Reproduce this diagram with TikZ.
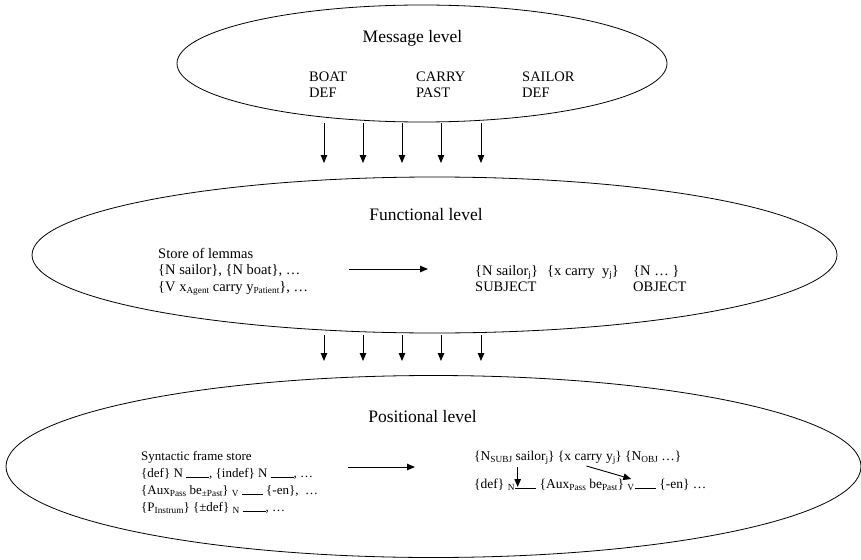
\documentclass[tikz,border=0pt]{standalone}
\usepackage{fontspec}
\setmainfont{Liberation Serif}
\usetikzlibrary{shapes.geometric,arrows.meta,calc}
\newcommand{\lsub}[1]{\raisebox{-0.35ex}{\fontsize{9.3}{10}\selectfont #1}}
\newcommand{\blankline}{\rule[-1pt]{23pt}{0.6pt}}
\newcommand{\blankshort}{\rule[-1pt]{21pt}{0.6pt}}
\tikzset{
  lvl/.style={draw, ellipse, inner sep=0pt, line width=0.8pt},
  title/.style={anchor=base, inner sep=0pt, font=\fontsize{17.5}{20}\selectfont},
  ftxt/.style={anchor=base west, inner sep=0pt, font=\fontsize{14.5}{17}\selectfont},
  ptxt/.style={anchor=base west, inner sep=0pt, font=\fontsize{13}{16}\selectfont},
  qtxt/.style={anchor=base west, inner sep=0pt, font=\fontsize{13.5}{16}\selectfont},
  arr/.style={-{Triangle[length=8pt,width=6.5pt]}, line width=0.9pt},
}
\begin{document}
\begin{tikzpicture}[x=1pt,y=-1pt]
\useasboundingbox (0,0) rectangle (861,559);
% ellipses
\node[lvl, minimum width=490pt, minimum height=117pt] (msg) at (422,63.5) {};
\node[lvl, minimum width=805pt, minimum height=156pt] (fun) at (434.5,255) {};
\node[lvl, minimum width=855pt, minimum height=182pt] (pos) at (433.5,466.5) {};
% message level
\node[title] (mt) at (412.5,43) {Message level};
\node[ftxt] (m1) at (309,82) {BOAT};
\node[ftxt] (m2) at (309,98) {DEF};
\node[ftxt] (m3) at (416,82) {CARRY};
\node[ftxt] (m4) at (416,98) {PAST};
\node[ftxt] (m5) at (522,82) {SAILOR};
\node[ftxt] (m6) at (522,98) {DEF};
% arrows message -> functional
\foreach \x [count=\i] in {324,363,402,441,481} {
  \coordinate (a\i) at (\x,123);
  \coordinate (b\i) at (\x,163);
  \draw[arr] (a\i) -- (b\i);
}
% functional level
\node[title] (ft) at (426,220) {Functional level};
\node[ftxt] (f1) at (158,258) {Store of lemmas};
\node[ftxt] (f2) at (158,274.5) {\{N sailor\}, \{N boat\}, …};
\node[ftxt] (f3) at (158,291.5) {\{V x\lsub{Agent} carry y\lsub{Patient}\}, …};
\coordinate (fa) at (349,269);
\coordinate (fb) at (428,269);
\draw[arr] (fa) -- (fb);
\node[ftxt] (g1) at (475,275) {\{N sailor\lsub{j}\}};
\node[ftxt] (g2) at (547,275) {\{x carry\ \ y\lsub{j}\}};
\node[ftxt] (g3) at (633,275) {\{N … \}};
\node[ftxt] (g4) at (475,291.5) {SUBJECT};
\node[ftxt] (g5) at (633,291.5) {OBJECT};
% arrows functional -> positional
\foreach \x [count=\i] in {324,363,402,441,481} {
  \coordinate (c\i) at (\x,335);
  \coordinate (d\i) at (\x,361);
  \draw[arr] (c\i) -- (d\i);
}
% positional level
\node[title] (pt) at (422.5,422) {Positional level};
\node[ptxt] (p1) at (141,460) {Syntactic frame store};
\node[ptxt] (p2) at (141,477) {\{def\} N \blankline, \{indef\} N \blankline, …};
\node[ptxt] (p3) at (141,494) {\{Aux\lsub{Pass} be\lsub{±Past}\} \lsub{V} \blankshort\ \{-en\}, \ …};
\node[ptxt] (p4) at (141,511) {\{P\lsub{Instrum}\} \{±def\} \lsub{N} \blankline, …};
\coordinate (pa) at (348,467);
\coordinate (pb) at (415,467);
\draw[arr] (pa) -- (pb);
% positional right: line 1
\node[qtxt] (q1a) at (474,460) {\{N\lsub{SUBJ} sailor\lsub{j}\} \{x carry\ };
\node[qtxt] (q1b) at (q1a.base east) {\ y\lsub{j}\} \{N\lsub{OBJ} …\}};
% positional right: line 2
\node[qtxt] (q2a) at (474,488) {\{def\} \lsub{N}\ };
\node[qtxt] (q2b) at (q2a.base east) {\blankshort};
\node[qtxt] (q2c) at (q2b.base east) {\ \{Aux\lsub{Pass} be\lsub{Past}\} \lsub{V}\ };
\node[qtxt] (q2d) at (q2c.base east) {\blankshort};
\node[qtxt] (q2e) at (q2d.base east) {\ \{-en\} …};
\coordinate (qa) at ($(q2b.west |- q1a.base)+(3,7)$);
\coordinate (qb) at ($(q2b.west |- q2a.base)+(3,-1)$);
\draw[arr] (qa) -- (qb);
\coordinate (qc) at ($(q1a.base east)+(-16,6)$);
\coordinate (qd) at ($(q2d.west |- q2a.base)+(-3,-9)$);
\draw[arr] (qc) -- (qd);
\end{tikzpicture}
\end{document}
